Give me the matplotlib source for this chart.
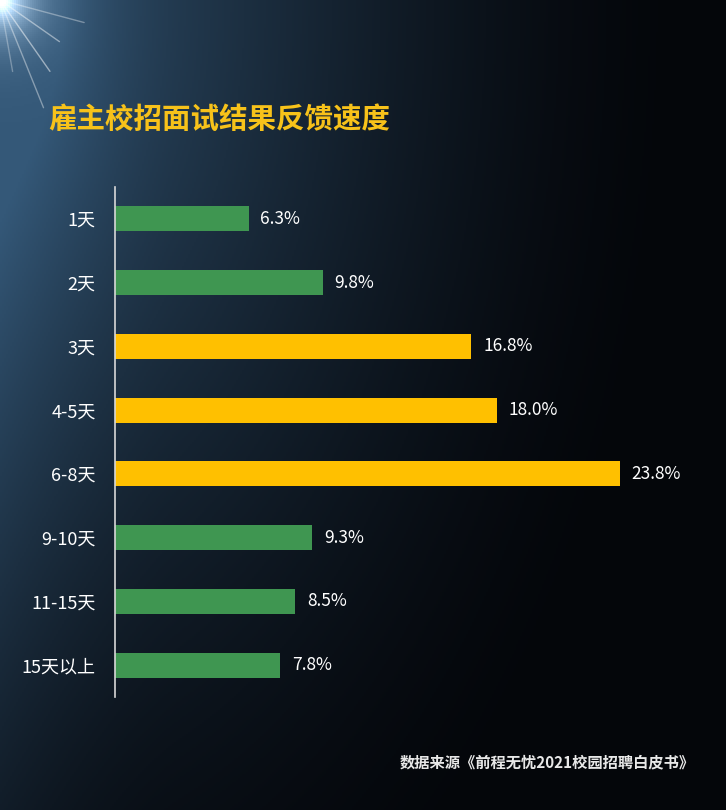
import numpy as np
import matplotlib
matplotlib.use("Agg")
import matplotlib.pyplot as plt

plt.rcParams['font.family'] = ['Noto Sans CJK SC', 'DejaVu Sans']

# data
categories = ["1天", "2天", "3天", "4-5天", "6-8天", "9-10天", "11-15天", "15天以上"]
values = [6.3, 9.8, 16.8, 18.0, 23.8, 9.3, 8.5, 7.8]
highlight = [False, False, True, True, True, False, False, False]

title = "雇主校招面试结果反馈速度"
source = "数据来源《前程无忧2021校园招聘白皮书》"

green = "#3f9651"
gold = "#ffc000"

fig = plt.figure(figsize=(7.26, 8.10), dpi=100)

# background: dark blue glow at top-left fading to black
bg = fig.add_axes([0, 0, 1, 1], zorder=-10)
h, w = 405, 363
yy, xx = np.mgrid[0:h, 0:w]
xn = xx / w
yn = yy / h
d = np.sqrt((xn * 1.1) ** 2 + (yn * 0.75) ** 2)
glow = np.clip(1 - d / 1.05, 0, 1) ** 1.6
left = np.clip(1 - xn / 0.25, 0, 1) ** 2 * 0.35 * (1 - yn * 0.6)
k = np.clip(glow + left, 0, 1)
base = np.array([4, 6, 10]) / 255
blue = np.array([52, 88, 120]) / 255
img = base + k[..., None] * (blue - base)
# spotlight at corner
sd = np.sqrt((xx / w * 726) ** 2 + (yy / h * 810) ** 2)
spot = np.exp(-sd / 22)
img = np.clip(img + spot[..., None] * 1.0, 0, 1)
bg.imshow(img, extent=[0, 1, 0, 1], aspect='auto', origin='upper')
for ang, ln, a in [(-15, 0.12, 0.35), (-35, 0.1, 0.45), (-55, 0.12, 0.5), (-68, 0.16, 0.4), (-80, 0.1, 0.3)]:
    t = np.deg2rad(ang)
    bg.plot([0, ln * np.cos(t)], [1, 1 + ln * np.sin(t) * 726 / 810],
            color="white", lw=1.0, alpha=a, solid_capstyle='round')
bg.set_xlim(0, 1)
bg.set_ylim(0, 1)
bg.axis("off")

ax = fig.add_axes([115 / 726, 113 / 810, 611 / 726, 510 / 810])
ax.patch.set_alpha(0)
y = np.arange(len(categories))
colors = [gold if hl else green for hl in highlight]
ax.barh(y, values, height=0.39, color=colors)
for yi, v in zip(y, values):
    ax.text(v + 0.55, yi, f"{v:.1f}%", va="center", ha="left",
            color="white", fontsize=12.5)

ax.set_xlim(0, 28.8)
ax.set_ylim(len(categories) - 0.5, -0.5)
ax.set_yticks(y)
ax.set_yticklabels(categories, color="white", fontsize=13)
ax.tick_params(axis="y", length=0, pad=14)
ax.set_xticks([])
for s in ["top", "right", "bottom"]:
    ax.spines[s].set_visible(False)
ax.spines["left"].set_color("#d8d8d8")
ax.spines["left"].set_linewidth(1.2)

fig.text(48 / 726, 1 - 120 / 810, title, color="#f7c21a", fontsize=20.5,
         fontweight="bold", va="center", ha="left")
fig.text(400 / 726, 1 - 762 / 810, source, color="#e8e8e8", fontsize=11,
         fontweight="bold", va="center", ha="left")

fig.savefig("out.png", dpi=100)
